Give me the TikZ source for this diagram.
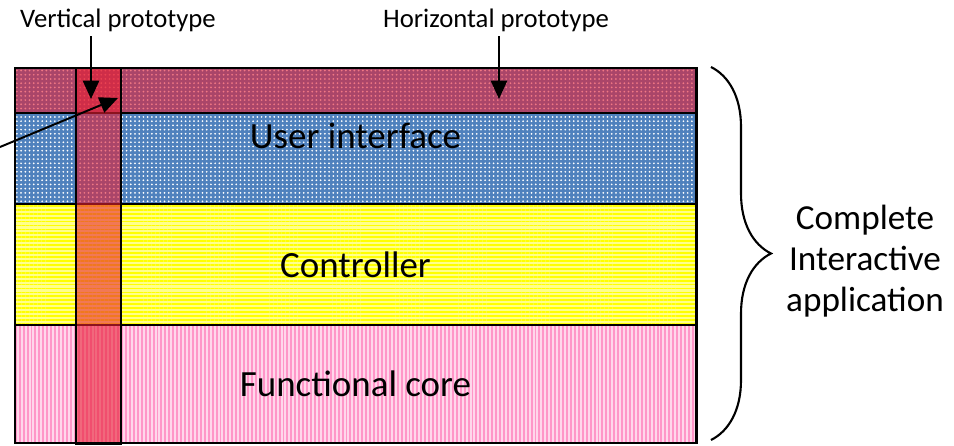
\documentclass[tikz,border=0pt]{standalone}
\usepackage{fontspec}
\setmainfont{Carlito}
\usetikzlibrary{positioning, arrows.meta, patterns.meta, decorations.pathreplacing}

\definecolor{uiblue}{RGB}{79,129,189}
\definecolor{ctrlyellow}{RGB}{255,255,0}
\definecolor{ctrlpale}{RGB}{255,255,140}
\definecolor{corepink}{RGB}{255,150,200}
\definecolor{corepale}{RGB}{255,215,235}
\definecolor{protored}{RGB}{232,30,50}

\tikzset{
  layer/.style={draw=black, line width=2pt, outer sep=0pt, inner sep=0pt,
    minimum width=17.025cm, font=\fontsize{26.3}{31}\selectfont},
  proto/.style={draw=black, line width=2pt, outer sep=0pt, fill=protored, fill opacity=0.6},
  note/.style={font=\fontsize{19}{23}\selectfont},
  pointer/.style={line width=1.4pt, -{Triangle[length=13pt,width=11.5pt]}}
}

\begin{document}
\begin{tikzpicture}[x=0.025cm, y=-0.025cm]
\useasboundingbox (0,0) rectangle (954,446);

\node[layer, minimum height=3.4cm, preaction={fill=uiblue},
  pattern={Dots[distance=3pt,radius=0.7pt]}, pattern color=white] (ui) at (355.5,136) {User interface};
\node[layer, minimum height=3.025cm, preaction={fill=ctrlpale},
  pattern={Lines[angle=0,distance=2.8pt,line width=1.3pt]}, pattern color=ctrlyellow] (ctrl) [below=0pt of ui] {Controller};
\node[layer, minimum height=2.95cm, preaction={fill=corepale},
  pattern={Lines[angle=90,distance=2.8pt,line width=1.4pt]}, pattern color=corepink] (core) [below=0pt of ctrl] {Functional core};

\node[proto, minimum width=17.025cm, minimum height=1.125cm, anchor=north] (hproto) at (ui.north) {};
\node[proto, minimum width=1.125cm, minimum height=9.375cm, anchor=north west] (vproto) at (76,68) {};

\node[note] (vlabel) at (118,20) {Vertical prototype};
\node[note] (hlabel) at (496,20) {Horizontal prototype};

\coordinate (vtip) at (91,99);
\coordinate (htip) at (499,99);
\coordinate (outside) at (0,147);
\coordinate (dtip) at (118,98);
\draw[pointer] (vlabel.south -| vtip) -- (vtip);
\draw[pointer] (hlabel.south -| htip) -- (htip);
\draw[pointer] (outside) -- (dtip);

\coordinate (btop) at (711,67);
\coordinate (bbot) at (711,440);
\draw[line width=1.5pt, decorate, decoration={brace, amplitude=1.5cm}] (btop) -- (bbot);
\node[font=\fontsize{25}{29}\selectfont, align=center] (whole) at (865,261) {Complete\\Interactive\\application};
\end{tikzpicture}
\end{document}
